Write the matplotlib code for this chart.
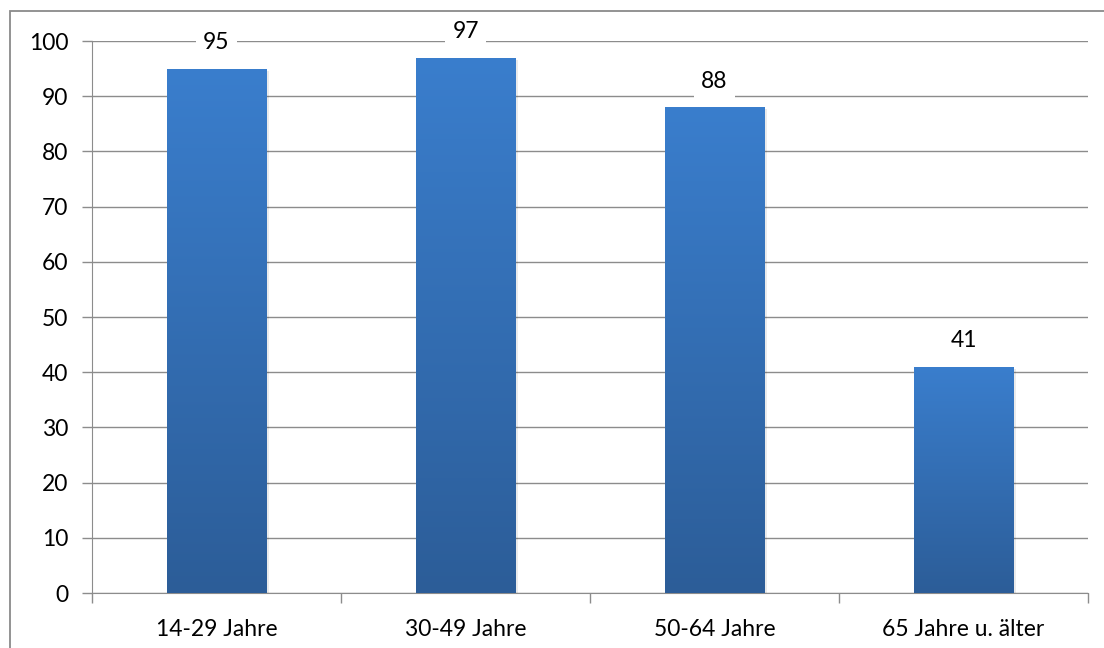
import numpy as np
import matplotlib
matplotlib.use("Agg")
import matplotlib.pyplot as plt
from matplotlib.colors import LinearSegmentedColormap
from matplotlib.patches import Rectangle

# Daten
categories = ["14-29 Jahre", "30-49 Jahre", "50-64 Jahre", "65 Jahre u. älter"]
values = [95, 97, 88, 41]
y_ticks = list(range(0, 101, 10))

plt.rcParams['font.family'] = ['Lato', 'DejaVu Sans']
fs = 16.5

fig = plt.figure(figsize=(11.04, 6.48), dpi=100)
ax = fig.add_axes([92 / 1104, 55 / 648, 996 / 1104, 552 / 648])

# Rahmen um das Diagramm
fig.add_artist(Rectangle((10 / 1104, -0.1), 1.2, (648 - 11) / 648 + 0.1,
                         transform=fig.transFigure, fill=False,
                         edgecolor='#8a8a8a', linewidth=1.3))

x = np.arange(len(categories))
bar_width = 0.4
grad = LinearSegmentedColormap.from_list('blau', ['#2c5d98', '#3a7ecd'])

bars = ax.bar(x, values, width=bar_width, color='none', edgecolor='none', zorder=3)
for bar in bars:
    x0, y0 = bar.get_x(), bar.get_y()
    w, h = bar.get_width(), bar.get_height()
    # leichter Schatten
    ax.add_patch(Rectangle((x0 + 0.01, y0), w, h - 0.4, facecolor='#000000',
                           alpha=0.08, edgecolor='none', zorder=2))
    img = ax.imshow(np.linspace(0, 1, 256).reshape(-1, 1), cmap=grad,
                    extent=[x0, x0 + w, y0, y0 + h], origin='lower',
                    aspect='auto', zorder=3)
    img.set_clip_path(bar)

for xi, v in zip(x, values):
    ax.text(xi, v + 4.7, str(v), ha='center', va='center', fontsize=fs,
            color='#000000', zorder=5,
            bbox=dict(facecolor='white', edgecolor='none', pad=5))

ax.set_xlim(-0.5, len(categories) - 0.5)
ax.set_ylim(0, 100)
ax.set_yticks(y_ticks)
ax.set_yticklabels([str(t) for t in y_ticks], fontsize=fs)
ax.set_xticks(x)
ax.set_xticklabels(categories, fontsize=fs)
ax.tick_params(axis='x', length=0, pad=19)
ax.set_xticks(np.arange(-0.5, len(categories)), minor=True)
ax.tick_params(axis='x', which='minor', length=7, color='#8c8c8c', width=1)
ax.tick_params(axis='y', length=7, color='#8c8c8c', width=1, pad=10)

ax.yaxis.grid(True, color='#8c8c8c', linewidth=1)
ax.set_axisbelow(True)
for side in ['top', 'right']:
    ax.spines[side].set_visible(False)
ax.spines['left'].set_color('#8c8c8c')
ax.spines['bottom'].set_color('#8c8c8c')

fig.savefig("out.png", dpi=100)
